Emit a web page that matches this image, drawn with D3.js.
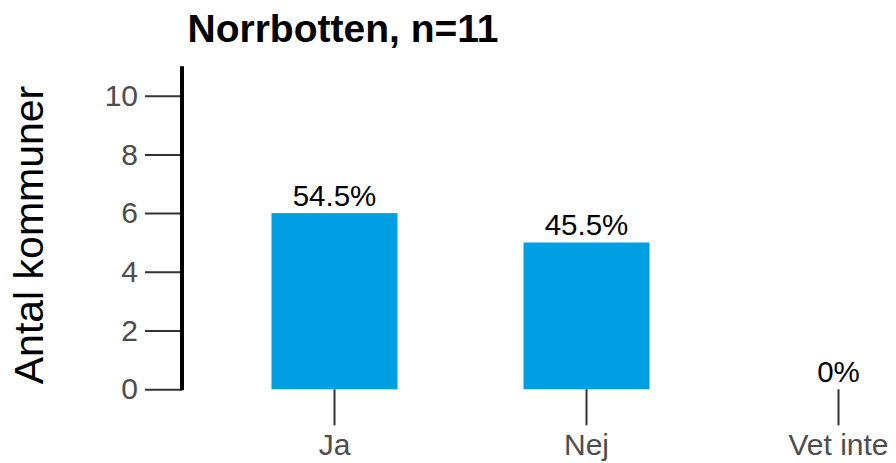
<!DOCTYPE html>
<html>
<head>
<meta charset="utf-8">
<script src="https://cdn.jsdelivr.net/npm/d3@7"></script>
<style>
  body { margin: 0; background: #fff; }
  svg { display: block; font-family: "Liberation Sans", Arial, sans-serif; }
</style>
</head>
<body>
<script>
// data
var categories = ["Ja", "Nej", "Vet inte"];
var counts = [6, 5, 0];
var percentLabels = ["54.5%", "45.5%", "0%"];
var yTicks = [0, 2, 4, 6, 8, 10];
var title = "Norrbotten, n=11";

var W = 896, H = 463;

var svg = d3.select("body").append("svg")
  .attr("width", W)
  .attr("height", H);

// scales
var y = d3.scaleLinear().domain([0, 11]).range([389.3, 66.3]);
var x = d3.scaleBand().domain(categories)
  .range([208.5, 964.5])
  .paddingInner(0.5)
  .paddingOuter(0.25);

// bars
svg.selectAll("rect.bar")
  .data(categories)
  .enter().append("rect")
  .attr("class", "bar")
  .attr("x", function(d) { return x(d); })
  .attr("width", x.bandwidth())
  .attr("y", function(d, i) { return y(counts[i]); })
  .attr("height", function(d, i) { return y(0) - y(counts[i]); })
  .attr("fill", "#009fe3");

// value labels
svg.selectAll("text.val")
  .data(categories)
  .enter().append("text")
  .attr("class", "val")
  .attr("x", function(d) { return x(d) + x.bandwidth() / 2; })
  .attr("y", function(d, i) { return y(counts[i]) - 7; })
  .attr("text-anchor", "middle")
  .attr("font-size", "29.5px")
  .attr("fill", "#000")
  .text(function(d, i) { return percentLabels[i]; });

// y axis
var yAxis = svg.append("g")
  .attr("transform", "translate(182,0)")
  .call(d3.axisLeft(y).tickValues(yTicks).tickSize(37).tickPadding(7));
yAxis.select(".domain").remove();
yAxis.selectAll(".tick line").attr("stroke", "#333").attr("stroke-width", 2);
yAxis.selectAll(".tick text")
  .attr("font-size", "30px")
  .attr("fill", "#4d4d4d")
  .attr("font-family", "Liberation Sans, Arial, sans-serif");

svg.append("line")
  .attr("x1", 182).attr("x2", 182)
  .attr("y1", y(11)).attr("y2", y(0) + 1)
  .attr("stroke", "#000")
  .attr("stroke-width", 4);

// x axis (ticks only)
var xAxis = svg.append("g")
  .attr("transform", "translate(0," + y(0) + ")")
  .call(d3.axisBottom(x).tickSize(36).tickPadding(8));
xAxis.select(".domain").remove();
xAxis.selectAll(".tick line").attr("stroke", "#333").attr("stroke-width", 2);
xAxis.selectAll(".tick text")
  .attr("font-size", "30px")
  .attr("fill", "#4d4d4d")
  .attr("font-family", "Liberation Sans, Arial, sans-serif");

// y label
svg.append("text")
  .attr("transform", "translate(43,235) rotate(-90)")
  .attr("text-anchor", "middle")
  .attr("font-size", "41px")
  .attr("fill", "#000")
  .text("Antal kommuner");

// title
svg.append("text")
  .attr("x", 343)
  .attr("y", 42)
  .attr("text-anchor", "middle")
  .attr("font-size", "39px")
  .attr("font-weight", "bold")
  .attr("fill", "#000")
  .text(title);
</script>
</body>
</html>
